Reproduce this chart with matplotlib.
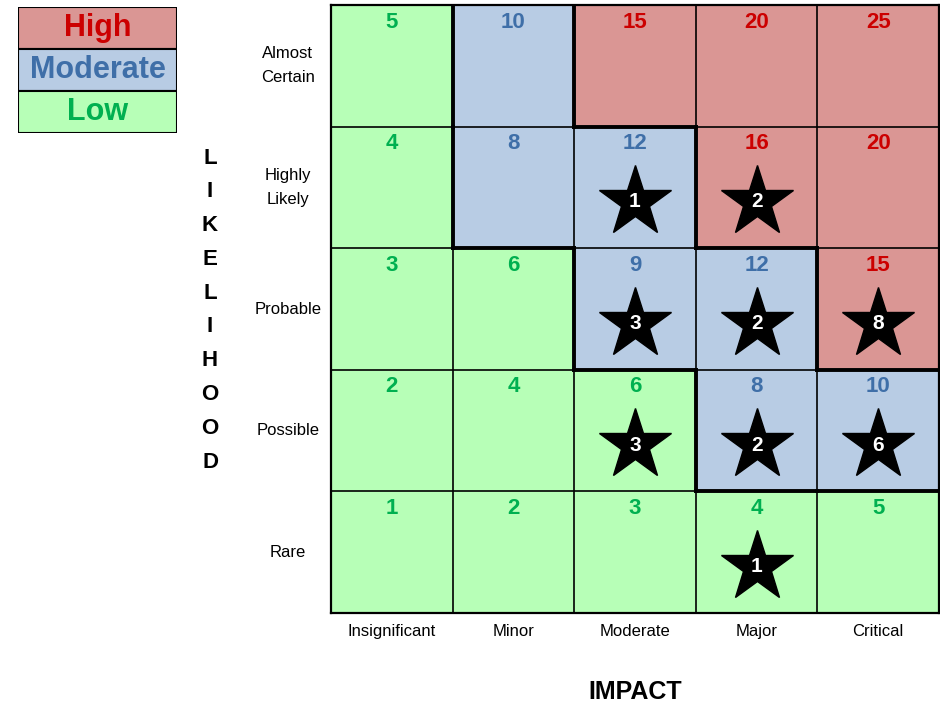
import numpy as np
import matplotlib
matplotlib.use("Agg")
import matplotlib.pyplot as plt
from matplotlib.colors import ListedColormap

plt.rcParams['font.family'] = ['Liberation Sans', 'DejaVu Sans']

impact = ['Insignificant', 'Minor', 'Moderate', 'Major', 'Critical']
likelihood = ['Rare', 'Possible', 'Probable', 'Highly\nLikely', 'Almost\nCertain']

# rows from Rare (bottom) to Almost Certain (top)
scores = [[1, 2, 3, 4, 5],
          [2, 4, 6, 8, 10],
          [3, 6, 9, 12, 15],
          [4, 8, 12, 16, 20],
          [5, 10, 15, 20, 25]]

levels = [['L', 'L', 'L', 'L', 'L'],
          ['L', 'L', 'L', 'M', 'M'],
          ['L', 'L', 'M', 'M', 'H'],
          ['L', 'M', 'M', 'H', 'H'],
          ['L', 'M', 'H', 'H', 'H']]

# number of risks in each cell (0 = no star)
risks = [[0, 0, 0, 1, 0],
         [0, 0, 3, 2, 6],
         [0, 0, 3, 2, 8],
         [0, 0, 1, 2, 0],
         [0, 0, 0, 0, 0]]

legend_names = ['High', 'Moderate', 'Low']

fill = {'H': '#da9694', 'M': '#b8cce4', 'L': '#b7ffb7'}
txt = {'H': '#cc0000', 'M': '#3f6fa8', 'L': '#00b050'}
order = ['L', 'M', 'H']

fig = plt.figure(figsize=(9.4, 7.04), dpi=100)
ax = fig.add_axes([331/940, 1-613/704, 608/940, 608/704])

lev = np.array([[order.index(c) for c in row] for row in levels])
cmap = ListedColormap([fill[c] for c in order])
ax.pcolormesh(np.arange(6), np.arange(6), lev, cmap=cmap, vmin=-0.5, vmax=2.5,
              edgecolors='none', antialiased=False)
n = 5
ax.vlines(np.arange(1, n), 0, n, color='black', lw=1.2)
ax.hlines(np.arange(1, n), 0, n, color='black', lw=1.2)

# thick lines between risk levels
for r in range(n):
    for c in range(n):
        if c < n-1 and levels[r][c] != levels[r][c+1]:
            ax.plot([c+1, c+1], [r, r+1], color='black', lw=2.8, solid_capstyle='projecting')
        if r < n-1 and levels[r][c] != levels[r+1][c]:
            ax.plot([c, c+1], [r+1, r+1], color='black', lw=2.8, solid_capstyle='projecting')

for r in range(n):
    for c in range(n):
        ax.text(c+0.5, r+0.86, str(scores[r][c]), ha='center', va='center',
                fontsize=16, fontweight='bold', color=txt[levels[r][c]])
        if risks[r][c]:
            ax.plot(c+0.5, r+0.38, marker='*', ms=54, color='black', mec='black')
            ax.text(c+0.5, r+0.38, str(risks[r][c]), ha='center', va='center',
                    fontsize=15, fontweight='bold', color='white')

ax.set_xlim(0, 5)
ax.set_ylim(0, 5)
ax.set_xticks([])
ax.set_yticks([])
for s in ax.spines.values():
    s.set_linewidth(1.6)

for i, name in enumerate(impact):
    ax.text(i+0.5, -0.15, name, ha='center', va='center', fontsize=12, clip_on=False)
for j, name in enumerate(likelihood):
    ax.text(-0.354, j+0.5, name, ha='center', va='center', fontsize=12,
            linespacing=1.75, clip_on=False)

for k, ch in enumerate('LIKELIHOOD'):
    fig.text(210/940, 1-(158+k*33.8)/704, ch, ha='center', va='center',
             fontsize=16, fontweight='bold')
fig.text(635/940, 1-692/704, 'IMPACT', ha='center', va='center',
         fontsize=18, fontweight='bold')

# legend box
lg = fig.add_axes([18/940, 1-133/704, 159/940, 126/704])
codes = ['H', 'M', 'L']
lg.barh(np.arange(3), [1, 1, 1], height=1, color=[fill[c] for c in codes],
        edgecolor='black', linewidth=1.5)
for k, (name, c) in enumerate(zip(legend_names, codes)):
    lg.text(0.5, k, name, ha='center', va='center', fontsize=22,
            fontweight='bold', color=txt[c])
lg.set_xlim(0, 1)
lg.set_ylim(2.5, -0.5)
lg.axis('off')

fig.savefig('out.png', dpi=100)
